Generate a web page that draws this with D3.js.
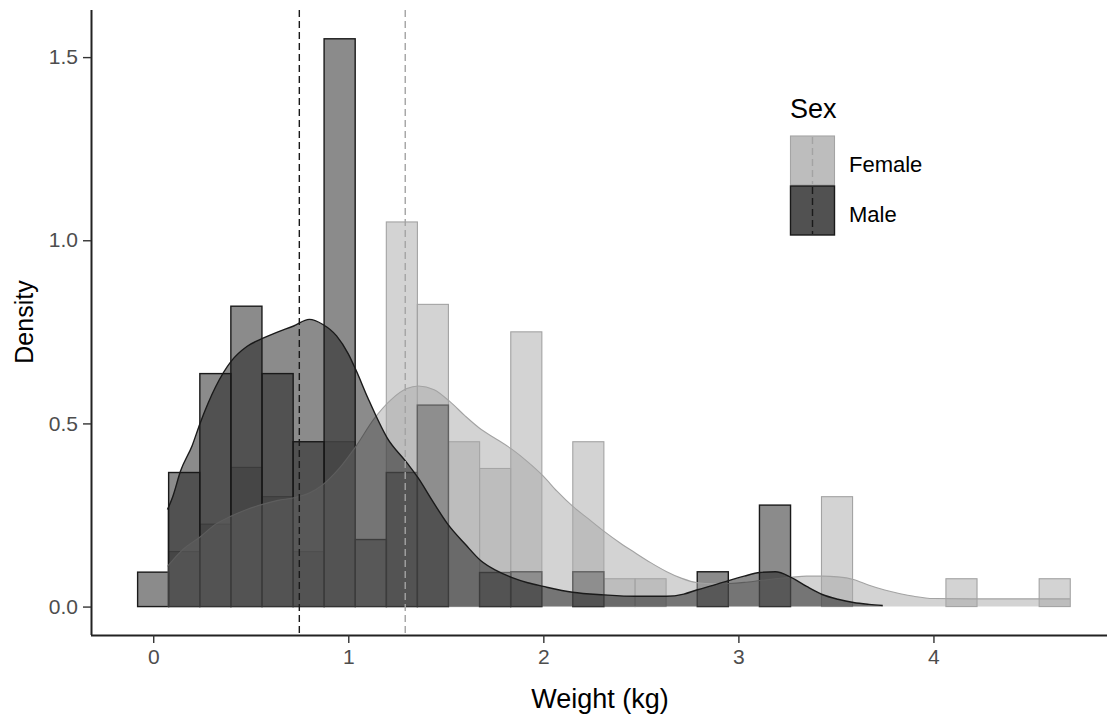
<!DOCTYPE html>
<html>
<head>
<meta charset="utf-8">
<script src="https://cdn.jsdelivr.net/npm/d3@7"></script>
<style>
body { margin: 0; background: #fff; }
text { font-family: "Liberation Sans", Arial, sans-serif; }
</style>
</head>
<body>
<svg id="chart" width="1107" height="717"></svg>
<script>
// histogram bins (30 bins, lower edges in kg)
const binLower = [-0.080, 0.079, 0.239, 0.398, 0.558, 0.717, 0.876, 1.036, 1.195, 1.354,
	1.514, 1.673, 1.833, 1.992, 2.151, 2.311, 2.470, 2.629, 2.789, 2.948,
	3.108, 3.267, 3.426, 3.586, 3.745, 3.904, 4.064, 4.223, 4.383, 4.542];
const binWidth = 0.1594;

const femaleHist = [0, 0.15, 0.225, 0.38, 0.30, 0.15, 0.45, 0, 1.05, 0.825,
	0.45, 0.377, 0.75, 0, 0.45, 0.076, 0.076, 0, 0, 0,
	0, 0, 0.30, 0, 0, 0, 0.076, 0, 0, 0.076];
const maleHist = [0.094, 0.366, 0.636, 0.82, 0.636, 0.45, 1.55, 0.183, 0.366, 0.55,
	0, 0.093, 0.095, 0, 0.095, 0, 0, 0, 0.095, 0,
	0.277, 0, 0, 0, 0, 0, 0, 0, 0, 0];

// kernel density curves
const femaleDensX = [0.073, 0.15, 0.24, 0.32, 0.40, 0.48, 0.56, 0.64, 0.72, 0.80,
	0.87, 0.95, 1.04, 1.13, 1.22, 1.30, 1.36, 1.44, 1.52, 1.60,
	1.68, 1.76, 1.84, 1.92, 2.00, 2.07, 2.15, 2.23, 2.31, 2.39,
	2.47, 2.55, 2.63, 2.71, 2.79, 2.87, 2.95, 3.03, 3.11, 3.19,
	3.27, 3.35, 3.43, 3.51, 3.59, 3.67, 3.75, 3.83, 3.90, 4.00,
	4.20, 4.40, 4.55, 4.70];
const femaleDensY = [0.11, 0.155, 0.19, 0.225, 0.247, 0.265, 0.279, 0.29, 0.297, 0.31,
	0.333, 0.375, 0.438, 0.511, 0.565, 0.595, 0.602, 0.592, 0.56, 0.52,
	0.484, 0.457, 0.429, 0.395, 0.356, 0.315, 0.274, 0.24, 0.206, 0.175,
	0.147, 0.12, 0.096, 0.077, 0.065, 0.062, 0.063, 0.066, 0.071, 0.076,
	0.08, 0.083, 0.083, 0.081, 0.074, 0.058, 0.045, 0.035, 0.028, 0.022,
	0.021, 0.021, 0.021, 0.021];

const maleDensX = [0.073, 0.10, 0.14, 0.20, 0.24, 0.32, 0.40, 0.48, 0.56, 0.64,
	0.72, 0.80, 0.87, 0.94, 1.00, 1.04, 1.10, 1.20, 1.30, 1.36,
	1.43, 1.51, 1.60, 1.68, 1.76, 1.84, 1.92, 2.00, 2.15, 2.31,
	2.47, 2.63, 2.72, 2.79, 2.87, 2.95, 3.03, 3.11, 3.19, 3.27,
	3.35, 3.43, 3.51, 3.59, 3.67, 3.74];
const maleDensY = [0.265, 0.30, 0.37, 0.44, 0.50, 0.60, 0.67, 0.71, 0.732, 0.75,
	0.766, 0.784, 0.77, 0.739, 0.69, 0.645, 0.57, 0.46, 0.393, 0.35,
	0.29, 0.225, 0.17, 0.125, 0.098, 0.079, 0.065, 0.055, 0.039, 0.032,
	0.028, 0.028, 0.034, 0.046, 0.058, 0.071, 0.083, 0.093, 0.095, 0.08,
	0.055, 0.033, 0.02, 0.011, 0.006, 0.003];

const femaleMean = 1.292;
const maleMean = 0.749;

const xTicks = [0, 1, 2, 3, 4];
const yTicks = [0, 0.5, 1, 1.5];
const sexLevels = ["Female", "Male"];

const colors = {
	Female: { fill: "#a7a7a7", line: "#a3a3a3" },
	Male: { fill: "#171717", line: "#1a1a1a" }
};

const svg = d3.select("#chart");

const x = d3.scaleLinear().domain([-0.319, 4.939]).range([91, 1116.6]);
const y = d3.scaleLinear().domain([-0.0776, 1.6286]).range([635, 10]);

// histograms
function drawHist(values, sex) {
	svg.append("g")
		.selectAll("rect")
		.data(values)
		.enter()
		.append("rect")
		.attr("x", (d, i) => x(binLower[i]))
		.attr("width", x(binWidth) - x(0))
		.attr("y", d => y(d))
		.attr("height", d => y(0) - y(d))
		.attr("fill", colors[sex].fill)
		.attr("fill-opacity", 0.5)
		.attr("stroke", colors[sex].line)
		.attr("stroke-width", sex == "Male" ? 1.4 : 1.1);
}
drawHist(femaleHist, "Female");
drawHist(maleHist, "Male");

// densities
function drawDensity(xs, ys, sex) {
	const pts = xs.map((v, i) => [v, ys[i]]);
	const area = d3.area()
		.x(d => x(d[0]))
		.y0(y(0))
		.y1(d => y(d[1]))
		.curve(d3.curveMonotoneX);
	const line = d3.line()
		.x(d => x(d[0]))
		.y(d => y(d[1]))
		.curve(d3.curveMonotoneX);
	svg.append("path")
		.attr("d", area(pts))
		.attr("fill", colors[sex].fill)
		.attr("fill-opacity", 0.5);
	svg.append("path")
		.attr("d", line(pts))
		.attr("fill", "none")
		.attr("stroke", colors[sex].line)
		.attr("stroke-width", sex == "Male" ? 1.4 : 1.1);
}
drawDensity(femaleDensX, femaleDensY, "Female");
drawDensity(maleDensX, maleDensY, "Male");

// mean lines
[[femaleMean, "Female"], [maleMean, "Male"]].forEach(([m, sex]) => {
	svg.append("line")
		.attr("x1", x(m)).attr("x2", x(m))
		.attr("y1", 10).attr("y2", 635)
		.attr("stroke", colors[sex].line)
		.attr("stroke-width", 1.4)
		.attr("stroke-dasharray", "7,4");
});

// axes
const xAxis = d3.axisBottom(x).tickValues(xTicks).tickSize(8).tickPadding(6).tickFormat(d3.format("d"));
const yAxis = d3.axisLeft(y).tickValues(yTicks).tickSize(8).tickPadding(5).tickFormat(d3.format(".1f"));

const gx = svg.append("g").attr("transform", "translate(0,635)").call(xAxis);
const gy = svg.append("g").attr("transform", "translate(91,0)").call(yAxis);

[gx, gy].forEach(g => {
	g.select(".domain").attr("stroke", "#222").attr("stroke-width", 2);
	g.selectAll(".tick line").attr("stroke", "#333").attr("stroke-width", 1.4);
	g.selectAll(".tick text")
		.attr("fill", "#4d4d4d")
		.style("font-size", "21px")
		.style("font-family", "'Liberation Sans', Arial, sans-serif");
});
gx.select(".domain").attr("d", "M91,0.5H1107");
gy.select(".domain").attr("d", "M0.5,10V635");

svg.append("text")
	.attr("x", 600)
	.attr("y", 708)
	.attr("text-anchor", "middle")
	.style("font-size", "27px")
	.text("Weight (kg)");

svg.append("text")
	.attr("transform", "translate(33,322) rotate(-90)")
	.attr("text-anchor", "middle")
	.style("font-size", "25px")
	.text("Density");

// legend
const legend = svg.append("g").attr("transform", "translate(790,0)");
legend.append("text")
	.attr("x", 0)
	.attr("y", 118)
	.style("font-size", "27px")
	.text("Sex");

sexLevels.forEach((sex, i) => {
	const ky = 136 + i * 50;
	legend.append("rect")
		.attr("x", 0.5).attr("y", ky)
		.attr("width", 44).attr("height", 49)
		.attr("fill", colors[sex].fill)
		.attr("fill-opacity", 0.5)
		.attr("stroke", colors[sex].line)
		.attr("stroke-width", sex == "Male" ? 1.4 : 1.1);
	legend.append("rect")
		.attr("x", 0.5).attr("y", ky)
		.attr("width", 44).attr("height", 49)
		.attr("fill", colors[sex].fill)
		.attr("fill-opacity", 0.5);
	legend.append("line")
		.attr("x1", 22.5).attr("x2", 22.5)
		.attr("y1", ky + 1).attr("y2", ky + 48)
		.attr("stroke", colors[sex].line)
		.attr("stroke-width", 1.4)
		.attr("stroke-dasharray", "7,4");
	legend.append("text")
		.attr("x", 59)
		.attr("y", ky + 36 - i * 0)
		.style("font-size", "22px")
		.text(sex);
});
</script>
</body>
</html>
